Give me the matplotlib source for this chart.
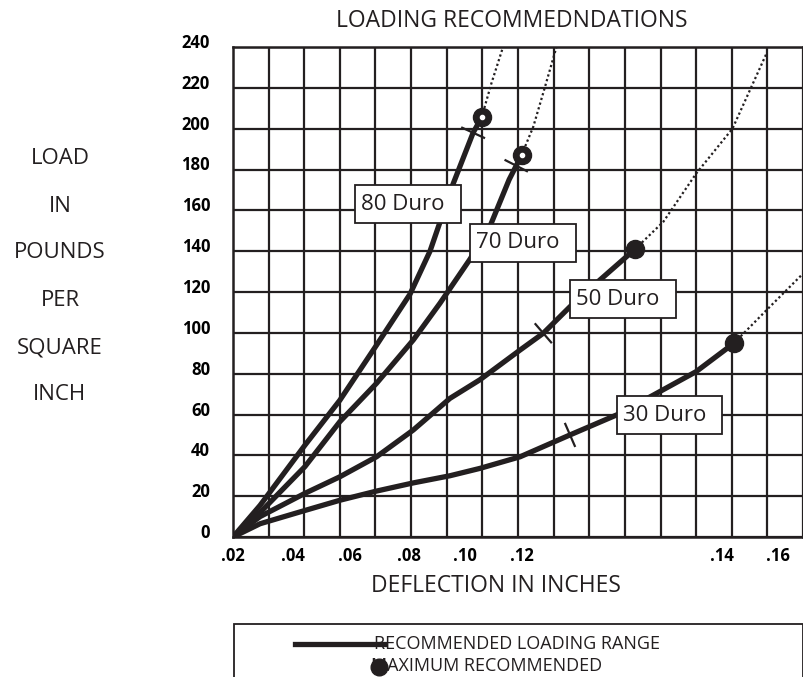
import numpy as np
import matplotlib
matplotlib.use("Agg")
import matplotlib.pyplot as plt
from matplotlib.patches import Rectangle
from matplotlib.lines import Line2D
from matplotlib.transforms import ScaledTranslation

plt.rcParams["font.family"] = ["Open Sans", "DejaVu Sans"]

INK = "#231f20"

# x values are positions along the chart's 16 grid columns (the printed deflection scale is uneven)
x_tick_pos    = [0.0, 1.68, 3.28, 4.95, 6.52, 8.11, 13.72, 15.29]
x_tick_labels = [".02", ".04", ".06", ".08", ".10", ".12", ".14", ".16"]
y_ticks       = list(range(0, 241, 20))

# recommended loading range (solid)
duro80_x = [0, 0.76, 2.02, 3.0, 4.03, 4.97, 5.53, 6.18, 6.74, 6.98]
duro80_y = [0, 15.5, 45, 67, 94, 119, 140, 173, 198, 205.5]
duro70_x = [0, 0.76, 2.02, 3.0, 4.03, 5.06, 5.81, 6.65, 7.21, 7.75, 8.10]
duro70_y = [0, 12, 34.5, 56.5, 75.3, 96.5, 114.5, 136, 152, 175, 187]
duro50_x = [0, 0.76, 2.02, 3.0, 4.03, 5.06, 6.09, 6.93, 8.06, 8.71, 9.46, 10.3, 11.28]
duro50_y = [0, 10, 21.4, 29.5, 39.3, 52.4, 67.9, 77, 91.6, 99.8, 112.8, 125.9, 140.9]
duro30_x = [0, 0.76, 2.02, 3.0, 4.03, 5.06, 6.09, 6.93, 8.06, 9.46, 10.77, 11.8, 13.0, 14.06]
duro30_y = [0, 6.5, 13, 18, 22.5, 26.5, 30, 33.6, 39.3, 50, 59.8, 69.5, 81, 94.9]

# beyond maximum (dotted)
dot80_x = [6.98, 7.25, 7.58]
dot80_y = [205.5, 222, 240]
dot70_x = [8.10, 8.43, 8.76, 9.08]
dot70_y = [187, 201, 220.6, 240]
dot50_x = [11.28, 12.08, 13.0, 14.02, 14.98]
dot50_y = [140.9, 154.4, 178, 200, 237]
dot30_x = [14.06, 14.98, 16.0]
dot30_y = [94.9, 111.2, 129]

# cross marks on each curve (x position)
mark_x = [6.74, 7.95, 8.71, 9.46]

curves = [
    ("80 Duro", duro80_x, duro80_y, dot80_x, dot80_y, True),
    ("70 Duro", duro70_x, duro70_y, dot70_x, dot70_y, True),
    ("50 Duro", duro50_x, duro50_y, dot50_x, dot50_y, False),
    ("30 Duro", duro30_x, duro30_y, dot30_x, dot30_y, False),
]
# lower-left corner of each label box
label_pos = [(3.42, 153.8), (6.65, 134.8), (9.46, 107.1), (10.77, 50.4)]

W, H = 804, 677
fig = plt.figure(figsize=(W / 100, H / 100), dpi=100)
ax = fig.add_axes([233 / W, 1 - 537 / H, 570 / W, 490 / H])
ax.set_xlim(0, 16)
ax.set_ylim(0, 240)

# grid
ax.set_xticks(range(17), minor=True)
ax.set_xticks(x_tick_pos, x_tick_labels)
ax.set_yticks(y_ticks)
ax.grid(which="minor", axis="x", color=INK, lw=1.6)
ax.grid(which="major", axis="y", color=INK, lw=1.6)
ax.tick_params(which="both", length=0)
ax.tick_params(axis="x", pad=7, labelsize=12)
ax.tick_params(axis="y", pad=16.5, labelsize=12)
for s in ax.spines.values():
    s.set_color(INK)
    s.set_linewidth(1.8)
shift = ScaledTranslation(0, 6 / 100, fig.dpi_scale_trans)
for lab in ax.get_yticklabels():
    lab.set_fontweight("bold")
    lab.set_transform(lab.get_transform() + shift)
for lab in ax.get_xticklabels():
    lab.set_fontweight("bold")
ax.set_axisbelow(True)

for (name, xs, ys, dx, dy, ring), (bx, by), mx in zip(curves, label_pos, mark_x):
    ax.plot(dx, dy, color=INK, lw=1.6, ls=(0, (1, 1.2)), zorder=3)
    ax.plot(xs, ys, color=INK, lw=3.8, solid_capstyle="round", zorder=4)
    ax.plot(xs[-1], ys[-1], "o", color=INK, ms=13, zorder=6)
    if ring:
        ax.plot(xs[-1], ys[-1], "o", color="white", ms=3, zorder=7)
    # short cross stroke perpendicular to the curve
    my = np.interp(mx, xs, ys)
    p = ax.transData.transform([(mx - 0.1, np.interp(mx - 0.1, xs, ys)),
                                (mx + 0.1, np.interp(mx + 0.1, xs, ys))])
    t = (p[1] - p[0]) / np.hypot(*(p[1] - p[0]))
    n = np.array([-t[1], t[0]])
    c = ax.transData.transform((mx, my))
    seg = ax.transData.inverted().transform([c - 12 * n, c + 12 * n])
    ax.plot(seg[:, 0], seg[:, 1], color=INK, lw=1.6, zorder=5)
    # label box
    ax.add_patch(Rectangle((bx, by), 2.97, 18.6, facecolor="white",
                           edgecolor=INK, lw=1.3, zorder=8))
    ax.text(bx + 0.17, by + 9.3, name, fontsize=16, va="center", ha="left",
            color=INK, zorder=9)

# titles
fig.text(512 / W, 1 - 21 / H, "LOADING RECOMMEDNDATIONS", fontsize=16.5,
         ha="center", va="center", color=INK)
fig.text(496 / W, 1 - 586 / H, "DEFLECTION IN INCHES", fontsize=16.5,
         ha="center", va="center", color=INK)
for word, yy in zip(["LOAD", "IN", "POUNDS", "PER", "SQUARE", "INCH"],
                    [158, 206, 253, 301, 348, 395]):
    fig.text(60 / W, 1 - yy / H, word, fontsize=16, ha="center", va="center",
             color=INK)

# legend box
fig.add_artist(Rectangle((234 / W, -0.05), (803 - 234) / W, (677 - 624) / H + 0.05,
                         transform=fig.transFigure, fill=False, edgecolor=INK, lw=1.3))
fig.text(374 / W, 1 - 644 / H, "RECOMMENDED LOADING RANGE", fontsize=13,
         ha="left", va="center", color=INK)
fig.add_artist(Line2D([295 / W, 384 / W], [1 - 644 / H, 1 - 644 / H],
                      transform=fig.transFigure, color=INK, lw=3.8, zorder=5))
fig.text(371 / W, 1 - 666 / H, "MAXIMUM RECOMMENDED", fontsize=13,
         ha="left", va="center", color=INK)
fig.add_artist(Line2D([379 / W], [1 - 667 / H], marker="o", ms=12, color=INK,
                      transform=fig.transFigure, zorder=5))

fig.savefig("out.png", dpi=100)
